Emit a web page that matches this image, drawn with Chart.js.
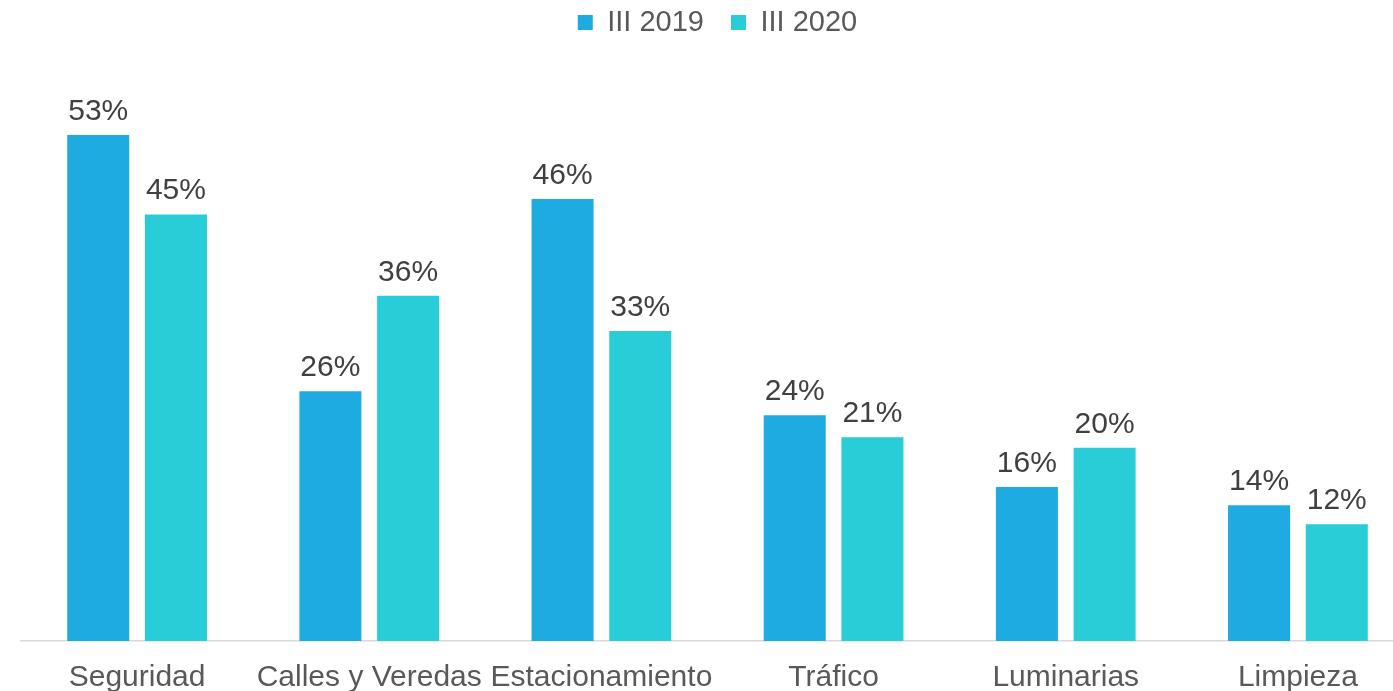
<!DOCTYPE html>
<html>
<head>
<meta charset="utf-8">
<script src="https://cdn.jsdelivr.net/npm/chart.js@4.4.1/dist/chart.umd.min.js"></script>
<style>
  html, body { margin: 0; padding: 0; background: #ffffff; overflow: hidden; }
  #wrap { position: relative; width: 1414px; height: 691px; }
</style>
</head>
<body>
<div id="wrap"><canvas id="c"></canvas></div>
<script>
const categories = ['Seguridad', 'Calles y Veredas', 'Estacionamiento', 'Tráfico', 'Luminarias', 'Limpieza'];
const seriesNames = ['III 2019', 'III 2020'];
const values2019 = [52.9, 26.1, 46.2, 23.6, 16.1, 14.2];
const values2020 = [44.6, 36.1, 32.4, 21.3, 20.2, 12.2];
const labels2019 = ['53%', '26%', '46%', '24%', '16%', '14%'];
const labels2020 = ['45%', '36%', '33%', '21%', '20%', '12%'];

const FONT = "'Liberation Sans', Arial, sans-serif";

const valueLabels = {
  id: 'valueLabels',
  afterDatasetsDraw(chart) {
    const ctx = chart.ctx;
    const texts = [labels2019, labels2020];
    ctx.save();
    ctx.font = '30px ' + FONT;
    ctx.fillStyle = '#404040';
    ctx.textAlign = 'center';
    ctx.textBaseline = 'alphabetic';
    chart.data.datasets.forEach((ds, di) => {
      chart.getDatasetMeta(di).data.forEach((bar, i) => {
        ctx.fillText(texts[di][i], bar.x, bar.y - 15);
      });
    });
    ctx.restore();
  }
};

new Chart(document.getElementById('c'), {
  type: 'bar',
  data: {
    labels: categories,
    datasets: [
      { label: seriesNames[0], data: values2019, backgroundColor: '#1EABE2',
        categoryPercentage: 0.6695, barPercentage: 0.798 },
      { label: seriesNames[1], data: values2020, backgroundColor: '#28CDD7',
        categoryPercentage: 0.6695, barPercentage: 0.798 }
    ]
  },
  options: {
    responsive: true,
    maintainAspectRatio: false,
    animation: false,
    layout: { padding: { top: -19, left: 21, right: 0, bottom: -24 } },
    plugins: {
      legend: {
        position: 'top',
        align: 'center',
        labels: {
          boxWidth: 15, boxHeight: 15, padding: 27,
          color: '#595959',
          font: { family: FONT, size: 29 }
        }
      },
      tooltip: { enabled: false }
    },
    scales: {
      x: {
        grid: { display: false, drawTicks: false },
        border: { display: true, color: '#d9d9d9', width: 1.5 },
        ticks: { color: '#595959', font: { family: FONT, size: 30 }, padding: 19, maxRotation: 0, autoSkip: false }
      },
      y: {
        display: false,
        min: 0,
        max: 62.1
      }
    }
  },
  plugins: [valueLabels]
});
</script>
</body>
</html>
